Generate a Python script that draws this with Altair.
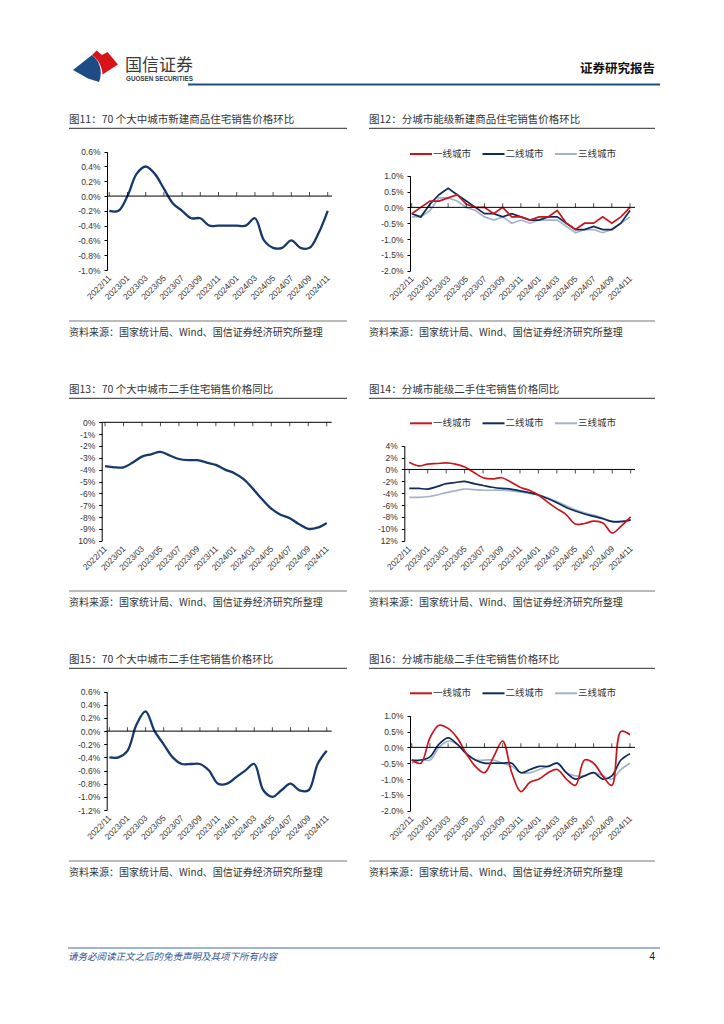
import json
import altair as alt
import pandas as pd

# ---------------- data ----------------
months = ["2022/11", "2022/12", "2023/01", "2023/02", "2023/03", "2023/04", "2023/05",
          "2023/06", "2023/07", "2023/08", "2023/09", "2023/10", "2023/11", "2023/12",
          "2024/01", "2024/02", "2024/03", "2024/04", "2024/05", "2024/06", "2024/07",
          "2024/08", "2024/09", "2024/10", "2024/11"]
series_names = ["一线城市", "二线城市", "三线城市"]

# 图11 70城新建商品住宅 环比 (%)
s11 = [-0.2, -0.2, 0.0, 0.3, 0.4, 0.3, 0.1, -0.1, -0.2, -0.3, -0.3, -0.4, -0.4, -0.4,
       -0.4, -0.4, -0.3, -0.6, -0.7, -0.7, -0.6, -0.7, -0.7, -0.5, -0.2]
# 图12 分能级新建 环比
s12_t1 = [-0.2, 0.0, 0.2, 0.2, 0.3, 0.4, 0.1, 0.0, 0.0, -0.2, 0.0, -0.3, -0.3, -0.4,
          -0.3, -0.3, -0.1, -0.5, -0.7, -0.5, -0.5, -0.3, -0.5, -0.3, 0.0]
s12_t2 = [-0.2, -0.3, 0.1, 0.4, 0.6, 0.4, 0.2, 0.0, -0.2, -0.2, -0.3, -0.2, -0.3, -0.4,
          -0.4, -0.3, -0.3, -0.5, -0.7, -0.7, -0.6, -0.7, -0.7, -0.5, -0.1]
s12_t3 = [-0.3, -0.3, -0.1, 0.3, 0.3, 0.2, 0.0, -0.1, -0.3, -0.4, -0.3, -0.5, -0.4, -0.5,
          -0.4, -0.4, -0.4, -0.6, -0.8, -0.7, -0.7, -0.8, -0.7, -0.5, -0.3]
# 图13 70城二手 同比
s13 = [-3.7, -3.8, -3.8, -3.4, -2.9, -2.7, -2.5, -2.8, -3.1, -3.2, -3.2, -3.4, -3.6, -4.0,
       -4.3, -4.8, -5.6, -6.5, -7.3, -7.8, -8.1, -8.6, -9.0, -8.9, -8.5]
# 图14 分能级二手 同比
s14_t1 = [1.2, 0.6, 0.9, 1.0, 1.1, 0.9, 0.4, -0.5, -1.4, -1.6, -1.4, -2.1, -3.0, -3.5,
          -4.3, -5.5, -6.6, -7.6, -9.2, -9.1, -8.7, -9.0, -10.7, -9.5, -8.0]
s14_t2 = [-3.2, -3.2, -3.3, -2.9, -2.4, -2.2, -2.0, -2.4, -2.7, -3.0, -3.2, -3.3, -3.6, -3.9,
          -4.3, -4.9, -5.6, -6.4, -7.0, -7.5, -7.9, -8.3, -8.8, -8.8, -8.5]
s14_t3 = [-4.7, -4.7, -4.6, -4.3, -3.9, -3.6, -3.3, -3.4, -3.5, -3.5, -3.5, -3.6, -3.8, -4.0,
          -4.3, -4.8, -5.4, -6.1, -6.8, -7.3, -7.7, -8.2, -8.7, -8.7, -8.6]
# 图15 70城二手 环比
s15 = [-0.4, -0.4, -0.3, 0.1, 0.3, 0.0, -0.2, -0.4, -0.5, -0.5, -0.5, -0.6, -0.8, -0.8,
       -0.7, -0.6, -0.5, -0.9, -1.0, -0.9, -0.8, -0.9, -0.9, -0.5, -0.3]
# 图16 分能级二手 环比
s16_t1 = [-0.4, -0.5, 0.3, 0.7, 0.6, 0.3, -0.2, -0.6, -0.8, -0.3, 0.2, -0.8, -1.4, -1.1,
          -1.0, -0.8, -0.7, -1.0, -1.2, -0.4, -0.5, -0.9, -1.2, 0.5, 0.4]
s16_t2 = [-0.4, -0.4, -0.3, 0.1, 0.3, 0.1, -0.2, -0.4, -0.5, -0.5, -0.5, -0.5, -0.8, -0.7,
          -0.6, -0.6, -0.5, -0.8, -1.0, -0.9, -0.8, -1.0, -0.9, -0.4, -0.2]
s16_t3 = [-0.5, -0.4, -0.4, 0.0, 0.2, 0.1, -0.2, -0.4, -0.4, -0.4, -0.5, -0.6, -0.8, -0.8,
          -0.7, -0.6, -0.5, -0.8, -0.9, -0.9, -0.8, -0.9, -1.0, -0.7, -0.5]

titles = ["图11：70 个大中城市新建商品住宅销售价格环比",
          "图12：分城市能级新建商品住宅销售价格环比",
          "图13：70 个大中城市二手住宅销售价格同比",
          "图14：分城市能级二手住宅销售价格同比",
          "图15：70 个大中城市二手住宅销售价格环比",
          "图16：分城市能级二手住宅销售价格环比"]
source_text = "资料来源：国家统计局、Wind、国信证券经济研究所整理"
header_cn = "国信证券"
header_en = "GUOSEN SECURITIES"
header_right = "证券研究报告"
footer_text = "请务必阅读正文之后的免责声明及其项下所有内容"
page_no = "4"

# ---------------- style ----------------
FONT_CJK = "Noto Sans CJK SC"
FONT_NUM = "Liberation Sans"
RED, NAVY, LIGHT = "#C9161D", "#0E2B5A", "#A2B4CB"
SERIES_COLORS = [RED, NAVY, LIGHT]
SINGLE = "#15396A"
one = pd.DataFrame({"k": [0]})
tick_idx = list(range(0, 25, 2))
months_js = json.dumps(months)
ROW_H = 270


def text_layer(txt, x, y, size, color="#222", align="left", font=FONT_CJK,
               weight="normal", style="normal"):
    return alt.Chart(pd.DataFrame({"t": [txt]})).mark_text(
        align=align, baseline="middle", font=font, fontSize=size, color=color,
        fontWeight=weight, fontStyle=style
    ).encode(text="t:N", x=alt.value(x), y=alt.value(y))


def hrule(x1, x2, y, color, width):
    return alt.Chart(one).mark_rule(color=color, strokeWidth=width).encode(
        x=alt.value(x1), x2=alt.value(x2), y=alt.value(y))


def panel(p):
    # the cell is the whole panel box; the plot sits inside it via scale ranges
    bx0, bx1 = (8, 360) if p["side"] == "L" else (360, 716)
    row_top = 100 + ROW_H * p["row"]
    BW, BH = bx1 - bx0, ROW_H
    px0, px1 = p["x0"] - bx0, p["x1"] - bx0
    pyt, pyb = p["ytop"] - row_top, p["ybot"] - row_top
    lo, hi = p["ydom"]
    n = int(round((hi - lo) / p["step"]))
    yvals = [round(lo + k * p["step"], 4) for k in range(n + 1)]
    xs = alt.Scale(domain=list(p["xdom"]), range=[px0, px1], nice=False, zero=False)
    ys = alt.Scale(domain=[lo, hi], range=[pyb, pyt], nice=False, zero=False)
    nm = p.get("nominus", -999)
    ylabel = ("(datum.value < -0.0001 && datum.value > %s ? '-' : '') + "
              "format(abs(datum.value), '.%df') + '%%'" % (nm + 0.001, p["dec"]))
    xaxis = alt.Axis(orient="bottom", offset=-(BH - pyb), values=tick_idx,
                     labelExpr=months_js + "[datum.value]",
                     labelAngle=315, labelAlign="right", labelBaseline="middle",
                     labelPadding=6, labelFlush=False, labelOverlap=False, labelBound=False,
                     labelFont=FONT_NUM, labelFontSize=8.5, labelColor="#333",
                     ticks=False, domain=False, grid=False, title=None)
    yaxis = alt.Axis(orient="left", offset=-px0, values=yvals, labelExpr=ylabel,
                     labelFont=FONT_NUM, labelFontSize=8.5, labelColor="#333", labelPadding=4,
                     labelOverlap=False, domain=True, domainColor="#000", domainWidth=1,
                     ticks=True, tickSize=3, tickColor="#000", grid=False, title=None)

    rows = []
    for name, vals in p["series"]:
        for i, v in enumerate(vals):
            rows.append({"i": i, "v": v, "s": name})
    df = pd.DataFrame(rows)

    enc = dict(x=alt.X("i:Q", scale=xs, axis=xaxis), y=alt.Y("v:Q", scale=ys, axis=yaxis))
    if p["multi"]:
        enc["color"] = alt.Color("s:N", scale=alt.Scale(domain=series_names, range=SERIES_COLORS),
                                 legend=None)
        line = alt.Chart(df).mark_line(interpolate=p["interp"], strokeWidth=1.7).encode(**enc)
    else:
        line = alt.Chart(df).mark_line(interpolate=p["interp"], strokeWidth=2.3,
                                       color=SINGLE).encode(**enc)

    zero = alt.Chart(one).mark_rule(color="#000", strokeWidth=1).encode(
        y=alt.YDatum(0, scale=ys, axis=yaxis), x=alt.value(px0), x2=alt.value(px1))
    yoff = -2 if p["tickdir"] == "up" else 2
    ticks = alt.Chart(pd.DataFrame({"i": tick_idx})).mark_tick(
        orient="vertical", size=4, thickness=1, color="#000", yOffset=yoff
    ).encode(x=alt.X("i:Q", scale=xs, axis=xaxis), y=alt.YDatum(0, scale=ys, axis=yaxis))

    lx0, lx1 = (69 - bx0, 347 - bx0) if p["side"] == "L" else (369 - bx0, 655 - bx0)
    layers = [
        line, zero, ticks,
        text_layer(p["title"], lx0, 20, 10.5, color="#333"),
        hrule(lx0, lx1, 28.3, "#555", 1.3),
        hrule(lx0, lx1, 221, "#777", 1.0),
        text_layer(source_text, lx0, 233.3, 10, color="#333"),
    ]
    if p["multi"]:
        for k, (nm_, col) in enumerate(zip(series_names, SERIES_COLORS)):
            sx = 410 + 72.5 * k - bx0
            ly = p["legy"] - row_top
            layers.append(hrule(sx, sx + 22, ly, col, 2))
            layers.append(text_layer(nm_, sx + 23, ly, 9.5, color="#333"))
    return alt.layer(*layers).properties(width=BW, height=BH)


panels = [
    dict(title=titles[0], side="L", row=0, x0=107, x1=332, ytop=151.7, ybot=270,
         ydom=(-1.0, 0.6), step=0.2, dec=1, xdom=(-0.25, 24.47), tickdir="up",
         interp="catmull-rom", series=[("70城", s11)], multi=False),
    dict(title=titles[1], side="R", row=0, x0=410, x1=635, ytop=175.7, ybot=270.7,
         ydom=(-2.0, 1.0), step=0.5, dec=1, xdom=(-0.19, 24.55), tickdir="up",
         interp="linear", multi=True, legy=154,
         series=[(series_names[2], s12_t3), (series_names[1], s12_t2), (series_names[0], s12_t1)]),
    dict(title=titles[2], side="L", row=1, x0=101.7, x1=331.7, ytop=422.3, ybot=540.7,
         ydom=(-10, 0), step=1, dec=0, nominus=-10, xdom=(-0.36, 24.54), tickdir="down",
         interp="catmull-rom", series=[("70城", s13)], multi=False),
    dict(title=titles[3], side="R", row=1, x0=404.3, x1=635, ytop=445.7, ybot=540.7,
         ydom=(-12, 4), step=2, dec=0, nominus=-12, xdom=(-0.54, 24.47), tickdir="down",
         interp="catmull-rom", multi=True, legy=423.3,
         series=[(series_names[2], s14_t3), (series_names[1], s14_t2), (series_names[0], s14_t1)]),
    dict(title=titles[4], side="L", row=2, x0=106.7, x1=331.7, ytop=691.7, ybot=810,
         ydom=(-1.2, 0.6), step=0.2, dec=1, xdom=(-0.29, 24.55), tickdir="up",
         interp="catmull-rom", series=[("70城", s15)], multi=False),
    dict(title=titles[5], side="R", row=2, x0=410, x1=635, ytop=715.7, ybot=810.7,
         ydom=(-2.0, 1.0), step=0.5, dec=1, xdom=(-0.19, 24.55), tickdir="up",
         interp="catmull-rom", multi=True, legy=693.3,
         series=[(series_names[2], s16_t3), (series_names[1], s16_t2), (series_names[0], s16_t1)]),
]

# ---------------- header (page y 8 .. 100) ----------------
BLUE_PATH = "M-0.88,0.16 L-0.12,-0.44 C0.16,-0.24 0.34,0.2 0.16,0.64 L-0.28,0.5 Z"
RED_PATH = ("M-0.12,-0.44 L0.06,-0.62 L0.28,-0.44 L0.5,-0.56 L0.92,-0.06 L0.3,0.34 "
            "C0.3,0.06 0.14,-0.26 -0.12,-0.44 Z")
logo_blue = alt.Chart(one).mark_point(shape=BLUE_PATH, size=2500, filled=True, color="#1C4B86",
                                      opacity=1, strokeWidth=0).encode(
    x=alt.value(95 - 8), y=alt.value(66 - 8))
logo_red = alt.Chart(one).mark_point(shape=RED_PATH, size=2500, filled=True, color="#D7141A",
                                     opacity=1, strokeWidth=0).encode(
    x=alt.value(95 - 8), y=alt.value(66 - 8))
header = alt.layer(
    logo_blue, logo_red,
    text_layer(header_cn, 125 - 8, 65.5 - 8, 17, color="#3a3a3a"),
    text_layer(header_en, 126 - 8, 78.5 - 8, 6.3, color="#3a3a3a", font=FONT_NUM, weight="bold"),
    text_layer(header_right, 655 - 8, 69 - 8, 12.5, color="#111", align="right", weight="bold"),
    hrule(188 - 8, 660 - 8, 84.5 - 8, "#1F4E79", 2),
).properties(width=708, height=92)

# ---------------- footer (page y 910 .. 1000) ----------------
footer = alt.layer(
    hrule(68 - 8, 660 - 8, 948 - 910, "#3D6DA6", 1),
    text_layer(footer_text, 68 - 8, 957 - 910, 9.5, color="#2E5597", style="italic"),
    text_layer(page_no, 655 - 8, 957 - 910, 10, color="#111", align="right", font=FONT_NUM),
).properties(width=708, height=90)

# ---------------- layout ----------------
items = [header]
for r in range(3):
    items.append(alt.hconcat(panel(panels[2 * r]), panel(panels[2 * r + 1]), spacing=0))
items.append(footer)

chart = alt.vconcat(*items, spacing=0).properties(
    padding=0, background="white").configure_view(stroke=None)

chart.save("out.html", embed_options={"renderer": "svg", "actions": False})
